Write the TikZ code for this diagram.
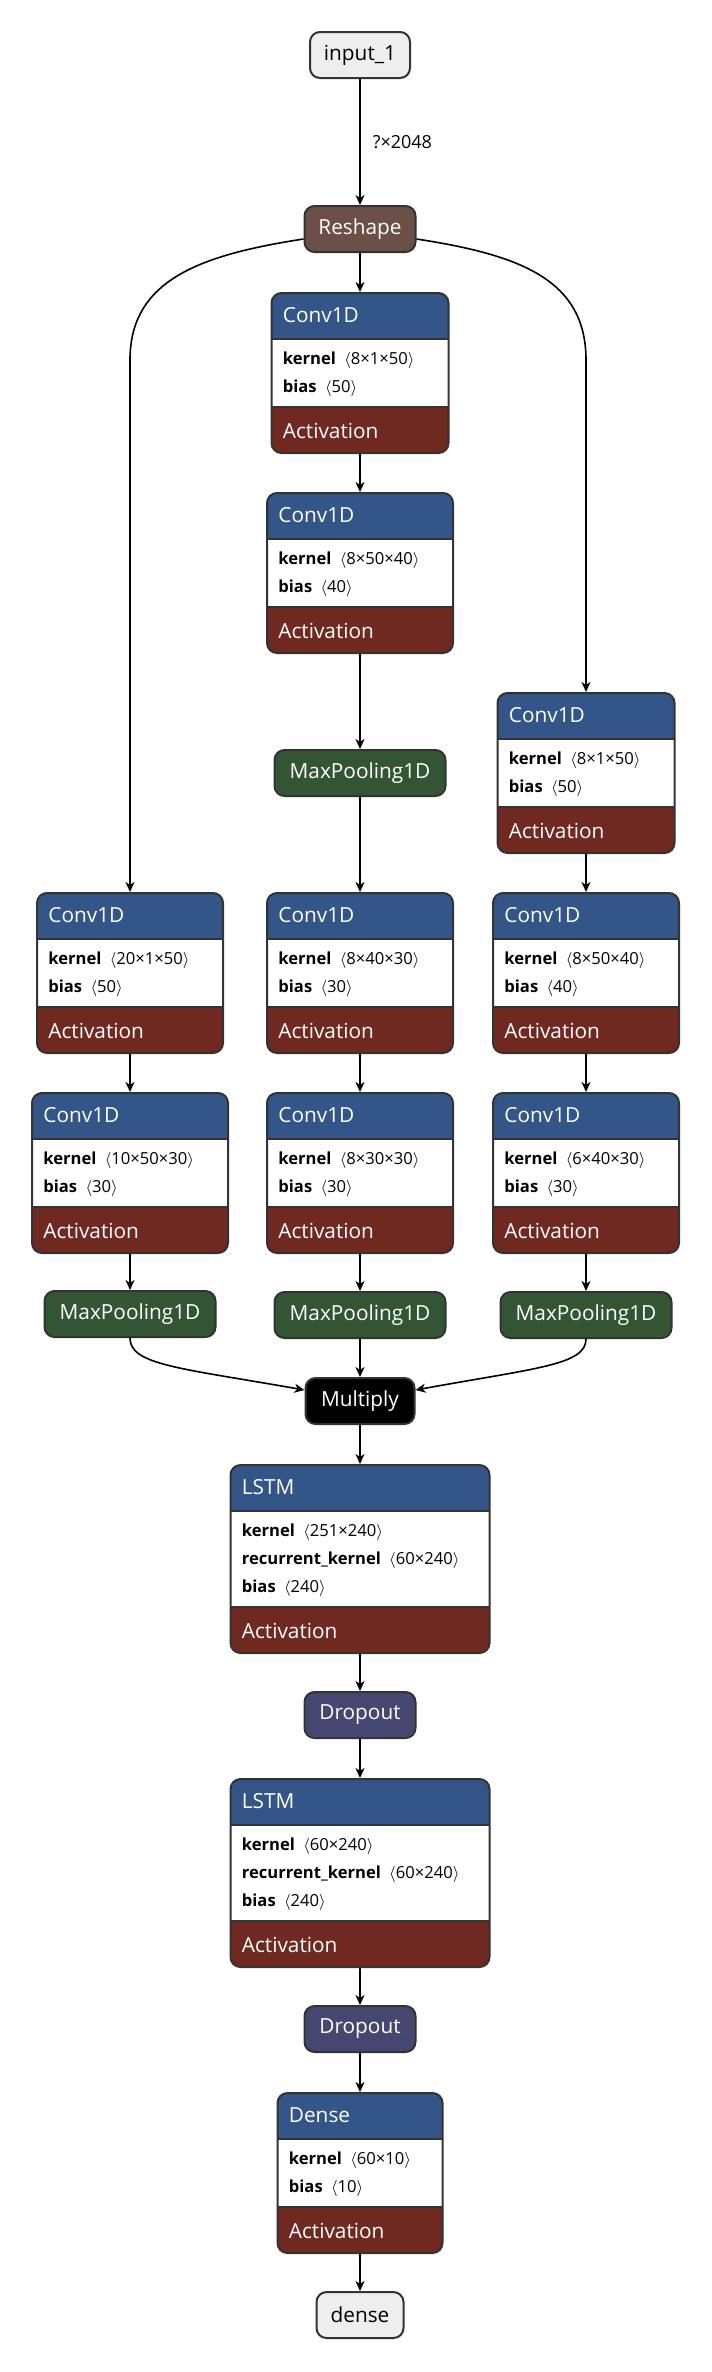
\documentclass[tikz,border=0pt]{standalone}
\usepackage{fontspec}
\setmainfont{Open Sans}
\usetikzlibrary{arrows.meta}

\definecolor{hdrc}{RGB}{51,85,136}
\definecolor{actc}{RGB}{112,41,33}
\definecolor{poolc}{RGB}{51,85,51}
\definecolor{dropc}{RGB}{69,71,112}
\definecolor{shapec}{RGB}{108,79,71}
\definecolor{bordc}{RGB}{51,51,51}
\definecolor{iofill}{RGB}{238,238,238}

\newcommand{\titlefont}{\fontsize{10.4pt}{12pt}\selectfont}
\newcommand{\attrfont}{\fontsize{8.3pt}{10pt}\selectfont}

\tikzset{
  simple/.style={draw=bordc, line width=1pt, rounded corners=5pt, minimum height=23pt,
    inner sep=0pt, text=white, font=\titlefont},
  io/.style={simple, fill=iofill, text=black},
  pool/.style={simple, fill=poolc, minimum width=85.5pt},
  drop/.style={simple, fill=dropc, minimum width=55.5pt},
  layerbox/.style={draw=bordc, line width=1pt, rounded corners=5pt, fill=white,
    anchor=north, inner sep=0pt,
    path picture={
      \fill[hdrc, sharp corners] (path picture bounding box.north west)
        rectangle ([yshift=-23pt]path picture bounding box.north east);
      \fill[actc, sharp corners] (path picture bounding box.south west)
        rectangle ([yshift=23pt]path picture bounding box.south east);
      \draw[bordc, line width=1pt] ([yshift=-23pt]path picture bounding box.north west)
        -- ([yshift=-23pt]path picture bounding box.north east);
      \draw[bordc, line width=1pt] ([yshift=23pt]path picture bounding box.south west)
        -- ([yshift=23pt]path picture bounding box.south east);
    }},
  title/.style={inner sep=0pt, text=white, font=\titlefont},
  attr/.style={inner sep=0pt, text=black, font=\attrfont},
  lbl/.style={inner sep=0pt, font=\fontsize{9pt}{10pt}\selectfont},
  edge/.style={-{Stealth[length=5pt, width=4.5pt, inset=1.5pt]}, line width=0.8pt}
}

% layer block: name, x, top, width, title, number of attributes, attributes
\newcommand{\layer}[7]{%
  \node[layerbox, minimum width=#4*0.5pt, minimum height={(104+28*#6)*0.5pt}] (#1) at (#2,#3) {};
  \node[title, anchor=west] at ([xshift=6pt, yshift=-11.5pt]#1.north west) {#5};
  \node[title, anchor=west] at ([xshift=6pt, yshift=11.5pt]#1.south west) {Activation};
  \foreach \key/\val [count=\i from 0] in {#7}
    \node[attr, anchor=west] at ([xshift=6pt, yshift={-(34+14*\i)*1pt}]#1.north west)
      {\textbf{\key}\enspace$\langle$\val$\rangle$};
}

\begin{document}
\begin{tikzpicture}[x=0.5pt, y=-0.5pt]
\useasboundingbox (0,0) rectangle (712,2372);

% input and reshape
\node[io, minimum width=50pt] (in) at (360,55) {input\_1};
\node[simple, fill=shapec, minimum width=55.5pt] (rs) at (360,229) {Reshape};

% middle branch
\layer{mc1}{360}{292}{177}{Conv1D}{2}{kernel/8×1×50, bias/50}
\layer{mc2}{360}{492}{186}{Conv1D}{2}{kernel/8×50×40, bias/40}
\node[pool] (mp1) at (360,773) {MaxPooling1D};
\layer{mc3}{360}{892}{186}{Conv1D}{2}{kernel/8×40×30, bias/30}
\layer{mc4}{360}{1092}{186}{Conv1D}{2}{kernel/8×30×30, bias/30}
\node[pool] (mp2) at (360,1315) {MaxPooling1D};

% left branch
\layer{lc1}{130}{892}{186}{Conv1D}{2}{kernel/20×1×50, bias/50}
\layer{lc2}{130}{1092}{196}{Conv1D}{2}{kernel/10×50×30, bias/30}
\node[pool] (lp) at (130,1314) {MaxPooling1D};

% right branch
\layer{rc1}{586}{692}{177}{Conv1D}{2}{kernel/8×1×50, bias/50}
\layer{rc2}{586}{892}{186}{Conv1D}{2}{kernel/8×50×40, bias/40}
\layer{rc3}{586}{1092}{186}{Conv1D}{2}{kernel/6×40×30, bias/30}
\node[pool] (rp) at (586,1315) {MaxPooling1D};

% merge and head
\node[simple, fill=black, minimum width=54.5pt] (mul) at (360,1401) {Multiply};
\layer{ls1}{360}{1464}{259}{LSTM}{3}{kernel/251×240, recurrent\_kernel/60×240, bias/240}
\node[drop] (do1) at (360,1715) {Dropout};
\layer{ls2}{360}{1778}{259}{LSTM}{3}{kernel/60×240, recurrent\_kernel/60×240, bias/240}
\node[drop] (do2) at (360,2029) {Dropout};
\layer{dn}{360}{2092}{165}{Dense}{2}{kernel/60×10, bias/10}
\node[io, minimum width=43.5pt] (out) at (360,2315) {dense};

\coordinate (lturn) at (130,360);
\coordinate (rturn) at (586,360);

% connectors
\draw[edge] (in.south) -- node[lbl, right=6pt] {?×2048} (rs.north);
\draw[edge] (rs.south) -- (mc1.north);
\draw[edge] (mc1.south) -- (mc2.north);
\draw[edge] (mc2.south) -- (mp1.north);
\draw[edge] (mp1.south) -- (mc3.north);
\draw[edge] (mc3.south) -- (mc4.north);
\draw[edge] (mc4.south) -- (mp2.north);
\draw[edge] (mp2.south) -- (mul.north);
\draw[edge] ([yshift=-5pt]rs.west) .. controls (200,255) and (130,280) .. (lturn) -- (lc1.north);
\draw[edge] ([yshift=-5pt]rs.east) .. controls (521,255) and (586,280) .. (rturn) -- (rc1.north);
\draw[edge] (lc1.south) -- (lc2.north);
\draw[edge] (lc2.south) -- (lp.north);
\draw[edge] (rc1.south) -- (rc2.north);
\draw[edge] (rc2.south) -- (rc3.north);
\draw[edge] (rc3.south) -- (rp.north);
\draw[edge] (lp.south) .. controls (130,1365) and (180,1368) .. ([yshift=5.5pt]mul.west);
\draw[edge] (rp.south) .. controls (586,1365) and (536,1368) .. ([yshift=5.5pt]mul.east);
\draw[edge] (mul.south) -- (ls1.north);
\draw[edge] (ls1.south) -- (do1.north);
\draw[edge] (do1.south) -- (ls2.north);
\draw[edge] (ls2.south) -- (do2.north);
\draw[edge] (do2.south) -- (dn.north);
\draw[edge] (dn.south) -- (out.north);
\end{tikzpicture}
\end{document}
